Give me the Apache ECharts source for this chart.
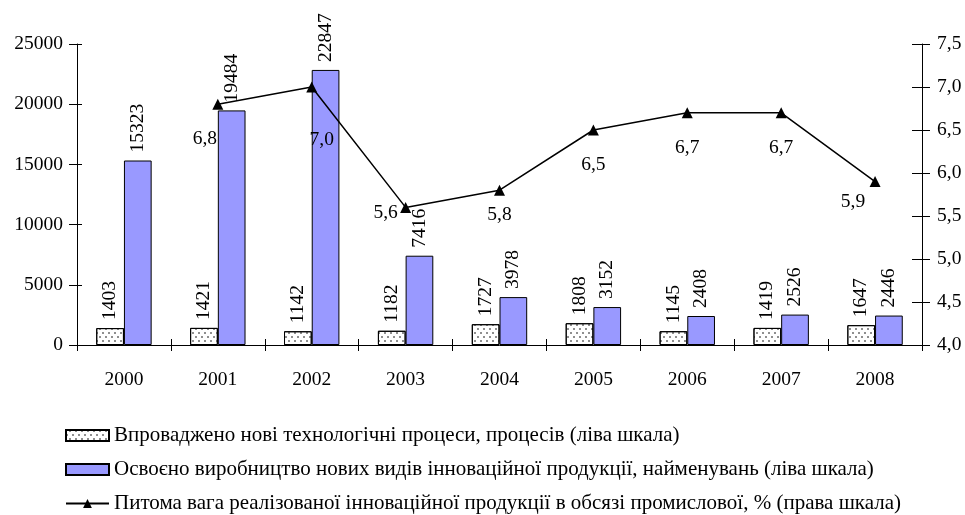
<!DOCTYPE html>
<html><head><meta charset="utf-8">
<script src="https://cdn.jsdelivr.net/npm/echarts@6/dist/echarts.min.js"></script>
<style>html,body{margin:0;padding:0;background:#fff;}#c{width:965px;height:515px;}</style>
</head><body><div id="c"></div>
<script>
const years = ['2000','2001','2002','2003','2004','2005','2006','2007','2008'];
const processes = [1403, 1421, 1142, 1182, 1727, 1808, 1145, 1419, 1647];
const products = [15323, 19484, 22847, 7416, 3978, 3152, 2408, 2526, 2446];
const share = [null, 6.8, 7.0, 5.6, 5.8, 6.5, 6.7, 6.7, 5.9];
const leftTicks = {min: 0, max: 25000, interval: 5000};
const rightTicks = {min: 4.0, max: 7.5, interval: 0.5};
const names = [
  'Впроваджено нові технологічні процеси, процесів (ліва шкала)',
  'Освоєно виробництво нових видів інноваційної продукції, найменувань (ліва шкала)',
  'Питома вага реалізованої інноваційної продукції в обсязі промислової, % (права шкала)'
];
// label offsets for line points (style only)
const lineLabelOffsets = [null, [-13, 14], [10, 32], [-20, -15], [0, 4], [0, 14], [0, 15], [0, 15], [-22, 0]];

const FONT = 'Liberation Serif';
const fs = 19.5;
const chart = echarts.init(document.getElementById('c'), null, {renderer: 'canvas'});
const axisLine = {show: true, lineStyle: {color: '#000', width: 1}};
const fmtComma = v => v.toFixed(1).replace('.', ',');
const legendBase = {
  orient: 'horizontal', left: 60, itemWidth: 43, itemHeight: 11,
  textStyle: {fontFamily: FONT, fontSize: 21, color: '#000'}
};

chart.setOption({
  animation: false,
  backgroundColor: '#fff',
  grid: {left: 77, right: 43, top: 44, bottom: 170},
  legend: [
    Object.assign({}, legendBase, {top: 420, data: [{name: names[0], icon: 'rect'}]}),
    Object.assign({}, legendBase, {top: 454, data: [{name: names[1], icon: 'rect'}]}),
    Object.assign({}, legendBase, {top: 488, data: [{name: names[2]}]})
  ],
  xAxis: [
    {type: 'category', data: years, position: 'bottom',
     axisLine: axisLine, axisTick: {show: true, inside: false, length: 6, lineStyle: {color: '#000'}},
     axisLabel: {fontFamily: FONT, fontSize: fs, color: '#000', margin: 25}},
    {type: 'category', data: years, position: 'bottom',
     axisLine: {show: false}, axisTick: {show: true, inside: true, length: 6, lineStyle: {color: '#000'}},
     axisLabel: {show: false}}
  ],
  yAxis: [
    {type: 'value', position: 'left', min: leftTicks.min, max: leftTicks.max, interval: leftTicks.interval,
     splitLine: {show: false}, axisLine: axisLine,
     axisTick: {show: true, inside: false, length: 8, lineStyle: {color: '#000'}},
     axisLabel: {fontFamily: FONT, fontSize: fs, color: '#000', margin: 14, formatter: v => String(v)}},
    {type: 'value', position: 'right', min: rightTicks.min, max: rightTicks.max, interval: rightTicks.interval,
     splitLine: {show: false}, axisLine: axisLine,
     axisTick: {show: true, inside: false, length: 8, lineStyle: {color: '#000'}},
     axisLabel: {fontFamily: FONT, fontSize: fs, color: '#000', margin: 15, formatter: fmtComma}},
    {type: 'value', position: 'left', min: leftTicks.min, max: leftTicks.max, interval: leftTicks.interval,
     splitLine: {show: false}, axisLine: {show: false},
     axisTick: {show: true, inside: true, length: 5, lineStyle: {color: '#000'}}, axisLabel: {show: false}},
    {type: 'value', position: 'right', min: rightTicks.min, max: rightTicks.max, interval: rightTicks.interval,
     splitLine: {show: false}, axisLine: {show: false},
     axisTick: {show: true, inside: true, length: 10, lineStyle: {color: '#000'}}, axisLabel: {show: false}}
  ],
  series: [
    {name: names[0], type: 'bar', data: processes, yAxisIndex: 0, barGap: '0%', barCategoryGap: '41%',
     itemStyle: {color: '#fff', borderColor: '#000', borderWidth: 1,
       decal: {symbol: 'circle', symbolSize: 0.8, color: '#000',
               dashArrayX: [[1.5, 3.5], [0, 2.5, 1.5, 1]], dashArrayY: [1.5, 2]}},
     label: {show: true, position: 'top', rotate: 90, align: 'left', verticalAlign: 'middle', distance: 8,
       fontFamily: FONT, fontSize: fs, color: '#000'}},
    {name: names[1], type: 'bar', data: products, yAxisIndex: 0,
     itemStyle: {color: '#9999ff', borderColor: '#000', borderWidth: 1},
     label: {show: true, position: 'top', rotate: 90, align: 'left', verticalAlign: 'middle', distance: 8,
       fontFamily: FONT, fontSize: fs, color: '#000'}},
    {name: names[2], type: 'line', yAxisIndex: 1, z: 5,
     data: share.map((v, i) => v === null ? null : {value: v,
       label: {offset: lineLabelOffsets[i]}}),
     symbol: 'triangle', symbolSize: 11, connectNulls: false,
     lineStyle: {color: '#000', width: 1.5}, itemStyle: {color: '#000'},
     label: {show: true, position: 'bottom', fontFamily: FONT, fontSize: fs, color: '#000',
       formatter: p => fmtComma(p.value)}}
  ]
});
</script></body></html>
